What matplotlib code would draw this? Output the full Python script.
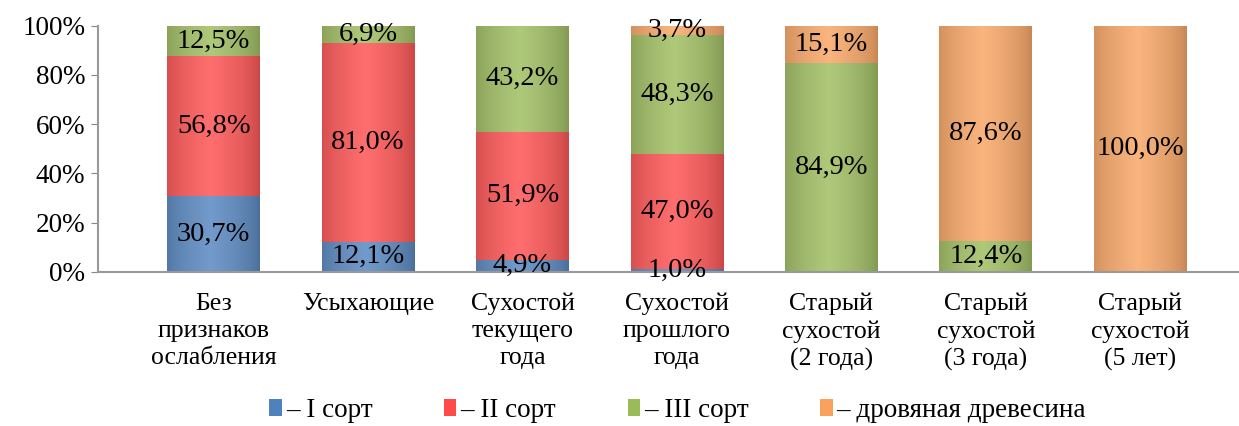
import numpy as np
import matplotlib
matplotlib.use("Agg")
import matplotlib.pyplot as plt
from matplotlib.colors import to_rgb

plt.rcParams['font.family'] = ['Liberation Serif', 'DejaVu Serif']

categories = ["Без\nпризнаков\nослабления", "Усыхающие", "Сухостой\nтекущего\nгода",
              "Сухостой\nпрошлого\nгода", "Старый\nсухостой\n(2 года)",
              "Старый\nсухостой\n(3 года)", "Старый\nсухостой\n(5 лет)"]
sort1 = [30.7, 12.1, 4.9, 1.0, 0, 0, 0]
sort2 = [56.8, 81.0, 51.9, 47.0, 0, 0, 0]
sort3 = [12.5, 6.9, 43.2, 48.3, 84.9, 12.4, 0]
firewood = [0, 0, 0, 3.7, 15.1, 87.6, 100.0]
series_names = ["– I сорт", "– II сорт", "– III сорт", "– дровяная древесина"]
colors = ["#4F81BD", "#FF4A4A", "#9BBB59", "#F9A25E"]


def gradient(base, n=80):
    c = np.array(to_rgb(base))
    light = c + (1 - c) * 0.2
    dark = c * 0.7
    t = np.linspace(0, 1, n)
    w = np.clip(1 - np.abs(t - 0.47) / 0.58, 0, 1) ** 0.45
    return (dark[None, :] + (light - dark)[None, :] * w[:, None])[None, :, :]


fig = plt.figure(figsize=(12.39, 4.26), dpi=100)
ax = fig.add_axes([0.079, 0.362, 0.921, 0.578])

x = np.arange(len(categories))
bottom = np.zeros(len(categories))
for vals, col, name in zip([sort1, sort2, sort3, firewood], colors, series_names):
    vals = np.array(vals, dtype=float)
    bars = ax.bar(x, vals, 0.6, bottom=bottom, color=col, label=name, zorder=2,
                  edgecolor="none")
    img = gradient(col)
    for b, v in zip(bars, vals):
        if v <= 0:
            continue
        x0, y0 = b.get_x(), b.get_y()
        im = ax.imshow(img, extent=[x0, x0 + b.get_width(), y0, y0 + b.get_height()],
                       aspect='auto', zorder=2.5, interpolation='bilinear')
        im.set_clip_path(b)
        ax.text(b.get_x() + b.get_width() / 2, y0 + v / 2,
                f"{v:.1f}%".replace('.', ','), ha='center', va='center',
                fontsize=20.5, zorder=4)
    bottom += vals

ax.set_xlim(-0.75, 6.64)
ax.set_ylim(0, 100)
ax.set_yticks(range(0, 101, 20))
ax.set_yticklabels([f"{v}%" for v in range(0, 101, 20)], fontsize=19.5)
ax.set_xticks(x)
ax.set_xticklabels(categories, fontsize=18.5, va='top', linespacing=1.3)
ax.tick_params(axis='x', length=0, pad=15)
ax.tick_params(axis='y', length=5, color='#888888', direction='out', pad=4)
for s in ['top', 'right']:
    ax.spines[s].set_visible(False)
for s in ['left', 'bottom']:
    ax.spines[s].set_color('#999999')
    ax.spines[s].set_linewidth(1.5)

handles, labels = ax.get_legend_handles_labels()
leg = fig.legend(handles, labels, loc='lower center', bbox_to_anchor=(0.547, -0.05), ncol=4,
                 frameon=False, fontsize=19.5, handlelength=0.45, handleheight=0.6,
                 handletextpad=0.15, columnspacing=2.65)

fig.savefig("out.png", dpi=100)
